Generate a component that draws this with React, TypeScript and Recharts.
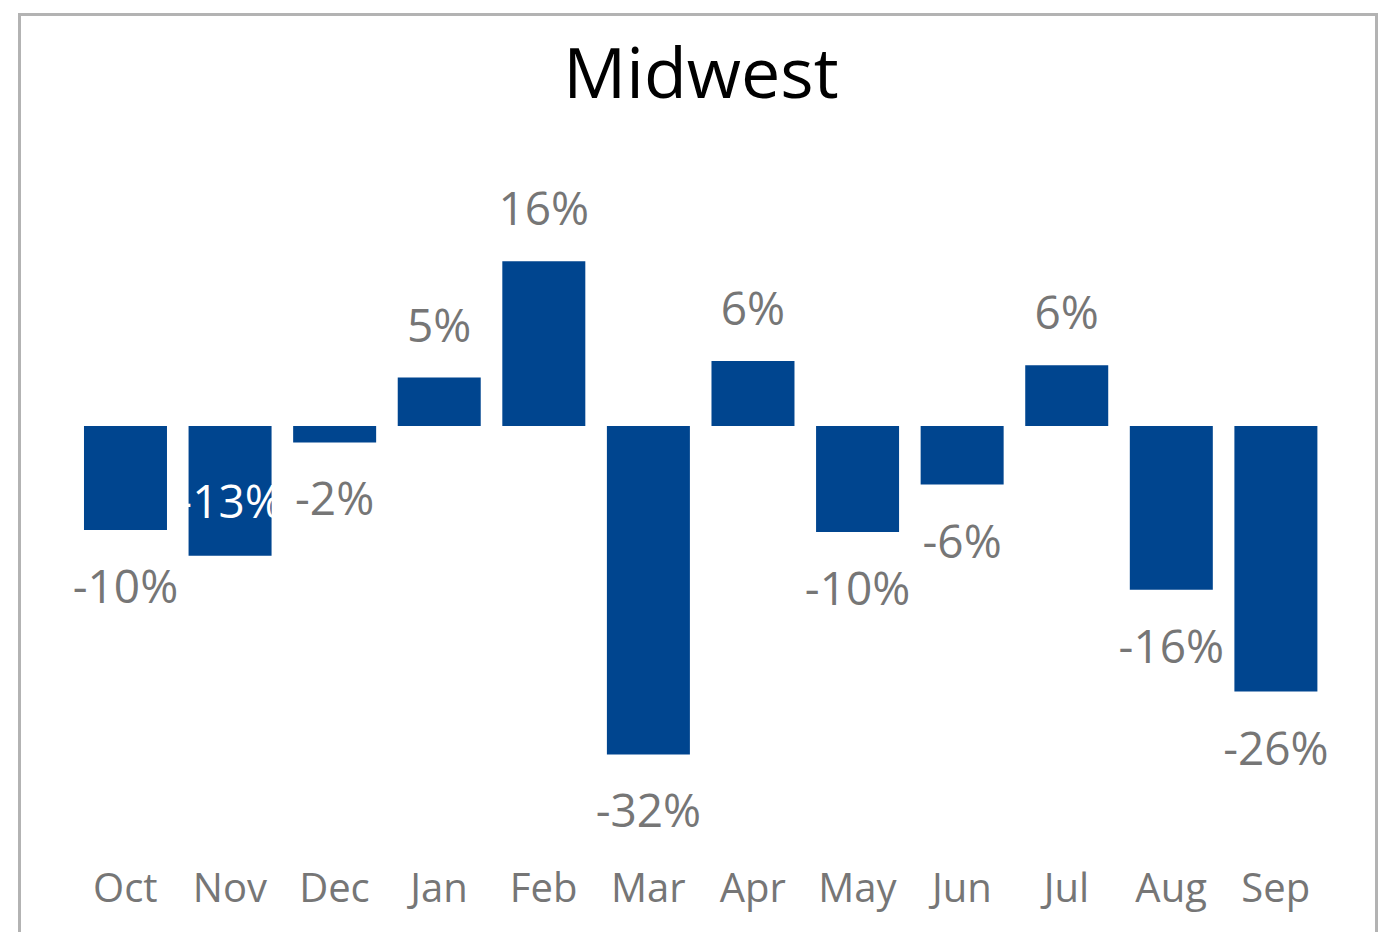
import React from 'react';
import { BarChart, Bar, XAxis, YAxis, LabelList } from 'recharts';

const months = ['Oct', 'Nov', 'Dec', 'Jan', 'Feb', 'Mar', 'Apr', 'May', 'Jun', 'Jul', 'Aug', 'Sep'];
const change = [-10.1, -12.6, -1.6, 4.7, 16.0, -31.9, 6.3, -10.3, -5.7, 5.9, -15.9, -25.8];
// Nov label sits inside its bar in the original
const insideLabel = ['Nov'];

const data = months.map((m, i) => ({ month: m, value: change[i] }));

const FONT = '"Open Sans", "Noto Sans", sans-serif';

const ValueLabel = (props: any) => {
  const { x, y, width, height, value, index } = props;
  const top = Math.min(y, y + height);
  const bottom = Math.max(y, y + height);
  const cx = x + width / 2;
  const inside = insideLabel.includes(months[index]);
  let ly = value >= 0 ? top - 54 : bottom + 55;
  if (inside) ly = bottom - 56;
  return (
    <text
      x={cx}
      y={ly}
      textAnchor="middle"
      dominantBaseline="central"
      fontFamily={FONT}
      fontSize={46}
      fill={inside ? '#ffffff' : '#767676'}
    >
      {`${Math.round(value)}%`}
    </text>
  );
};

const MonthTick = (props: any) => {
  const { x, y, payload } = props;
  return (
    <text x={x} y={y + 102} textAnchor="middle" dominantBaseline="central" fontFamily={FONT} fontSize={40} fill="#767676">
      {payload.value}
    </text>
  );
};

export default function App() {
  return (
    <div
      style={{
        position: 'relative',
        marginLeft: 10,
        marginTop: 5,
        width: 1354,
        height: 940,
        border: '3px solid #b3b3b3',
        background: '#fff',
      }}
    >
      <div
        style={{
          position: 'absolute',
          left: 3,
          top: 5,
          width: '100%',
          textAlign: 'center',
          fontFamily: FONT,
          fontSize: 70,
          lineHeight: '100px',
          color: '#000',
        }}
      >
        Midwest
      </div>
      <div style={{ position: 'absolute', left: 0, top: 0 }}>
        <BarChart
          width={1354}
          height={920}
          data={data}
          margin={{ top: 204, right: 47, left: 52, bottom: 130 }}
          barCategoryGap="10.5%"
        >
          <XAxis dataKey="month" axisLine={false} tickLine={false} tick={<MonthTick />} height={30} interval={0} />
          <YAxis hide domain={[-34, 20]} />
          <Bar dataKey="value" fill="#00458f" isAnimationActive={false}>
            <LabelList dataKey="value" content={<ValueLabel />} />
          </Bar>
        </BarChart>
      </div>
    </div>
  );
}
